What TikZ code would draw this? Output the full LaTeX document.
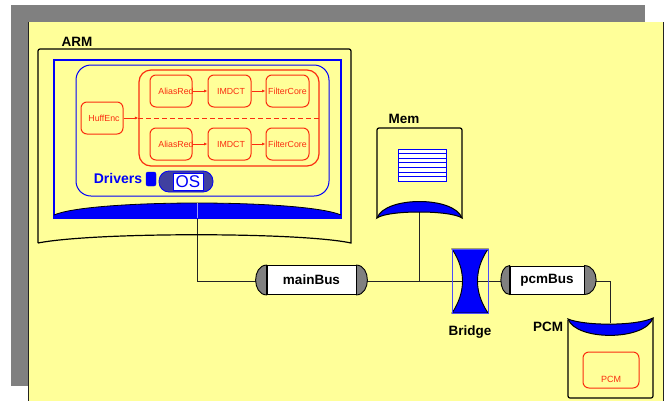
\documentclass[tikz,border=0pt]{standalone}
\usepackage{fontspec}
\setmainfont{Liberation Sans}
\usetikzlibrary{arrows.meta}
\definecolor{bgyellow}{RGB}{255,255,153}
\definecolor{shadowgray}{RGB}{128,128,128}
\definecolor{redc}{RGB}{250,45,15}
\definecolor{bluec}{RGB}{0,0,250}
\definecolor{osblue}{RGB}{64,64,160}
\definecolor{linec}{RGB}{35,35,35}
\begin{document}
\begin{tikzpicture}[x=1pt,y=-1pt,
  lbl/.style={font=\fontsize{13.5}{15}\selectfont\bfseries, inner sep=0},
  rbox/.style={draw=redc, line width=1pt, rounded corners=6pt, inner sep=0},
  rtext/.style={text=redc, font=\fontsize{8.8}{10}\selectfont, inner sep=0},
  rarrow/.style={draw=redc, line width=0.9pt, -{Latex[length=3.5pt,width=3pt]}},
  busline/.style={draw=linec, line width=1pt},
  thick1/.style={line width=1.2pt},
  capfill/.style={draw=black, fill=shadowgray, line width=0.9pt}
]
\useasboundingbox (0,0) rectangle (665,400);
% background
\fill[shadowgray] (11,5) rectangle (645,386);
\fill[bgyellow] (28,22) rectangle (663,410);
\draw[linec, line width=0.9pt] (28,410) -- (28,22);
\draw[linec, line width=0.9pt] (663,22) -- (663,410);

% ---------- connectors (under shapes) ----------
\coordinate (armout) at (197,218);
\coordinate (mbL) at (256,281);
\coordinate (mbR) at (367,281);
\coordinate (pbL) at (501,281);
\coordinate (pbR) at (596,281);
\coordinate (memout) at (419,212);
\coordinate (pcmin) at (610,323);
\draw[busline] (armout) |- (mbL);
\draw[busline] (mbR) -- (pbL);
\draw[busline] (memout) -- (memout |- mbR);
\draw[busline] (pbR) -| (pcmin);

% ---------- ARM ----------
\node[lbl] (armlbl) at (77,42) {ARM};
\draw[thick1] (38,243) [rounded corners=2pt] -- (38,49) -- (351,49) [sharp corners] -- (351,243)
  .. controls (300,232) and (94,232) .. (38,243);
\draw[bluec, line width=1.5pt] (54,60) rectangle (341,218);
\fill[bluec] (54,218) -- (54,215) .. controls (90,199) and (304,199) .. (341,215) -- (341,218) -- cycle;
\draw[line width=0.8pt] (54,215) .. controls (90,199) and (304,199) .. (341,215);
\draw[bluec!40!white, line width=0.4pt] (197,203) -- (197,218);

% inner software container
\draw[bluec, line width=1pt, rounded corners=15pt] (76,65) rectangle (329,196);
\node[rbox, minimum width=180pt, minimum height=96pt, rounded corners=12pt, line width=1.2pt] (big) at (229,118) {};
\node[rbox, minimum width=42pt, minimum height=32pt] (huff) at (102,118) {};
\node[rtext] (hufft) at (104,118) {HuffEnc};
\node[rbox, minimum width=42pt, minimum height=32pt] (ar1) at (171,91) {};
\node[rbox, minimum width=43pt, minimum height=32pt] (im1) at (229.5,91) {};
\node[rbox, minimum width=43pt, minimum height=32pt] (fc1) at (287.5,91) {};
\node[rbox, minimum width=42pt, minimum height=32pt] (ar2) at (171,144) {};
\node[rbox, minimum width=43pt, minimum height=32pt] (im2) at (229.5,144) {};
\node[rbox, minimum width=43pt, minimum height=32pt] (fc2) at (287.5,144) {};
\node[rtext] (ar1t) at (176,91) {AliasRed};
\node[rtext] (im1t) at (231,91) {IMDCT};
\node[rtext] (fc1t) at (287.5,91) {FilterCore};
\node[rtext] (ar2t) at (176,144) {AliasRed};
\node[rtext] (im2t) at (231,144) {IMDCT};
\node[rtext] (fc2t) at (287.5,144) {FilterCore};
\draw[rarrow] (ar1.east) -- (im1.west);
\draw[rarrow] (im1.east) -- (fc1.west);
\draw[rarrow] (ar2.east) -- (im2.west);
\draw[rarrow] (im2.east) -- (fc2.west);
\draw[rarrow] (huff.east) -- (big.west);
\draw[redc, line width=1pt, dash pattern=on 5pt off 3pt] (big.west) -- (big.east);

% drivers / OS
\node[font=\fontsize{14}{16}\selectfont\bfseries, text=bluec, inner sep=0] (drv) at (118,178) {Drivers};
\draw[draw=bluec, fill=bluec, rounded corners=2pt] (146,172) rectangle (156,186);
\draw[draw=bluec, fill=osblue, rounded corners=10pt, line width=0.8pt] (159,171) rectangle (213,192);
\node[draw=bluec, fill=white, line width=0.8pt, minimum width=30pt, minimum height=17pt, inner sep=0,
  font=\fontsize{17}{18}\selectfont, text=bluec] (os) at (188,181.5) {OS};

% ---------- Mem ----------
\node[lbl] (memlbl) at (404,119) {Mem};
\draw[thick1] (377,218) [rounded corners=2pt] -- (377,128) -- (462,128) [sharp corners] -- (462,218);
\draw[fill=bluec, line width=1pt] (377,218) .. controls (385,196) and (454,196) .. (462,218)
  .. controls (450,210) and (388,210) .. cycle;
\draw[bluec, fill=white, line width=0.8pt] (398,149) rectangle (446,181);
\foreach \yy in {153.6,158.1,162.7,167.3,171.9,176.4}
  \draw[bluec, line width=0.8pt] (398,\yy) -- (446,\yy);

% ---------- mainBus ----------
\node[draw=black, fill=white, line width=0.9pt, minimum width=89pt, minimum height=29pt, inner sep=0, lbl] (mb) at (311.5,280) {mainBus};
\draw[capfill] (mb.north west) .. controls (252,265.5) and (252,294.5) .. (mb.south west) -- cycle;
\draw[capfill] (mb.north east) .. controls (371,265.5) and (371,294.5) .. (mb.south east) -- cycle;

% ---------- Bridge ----------
\draw[fill=bluec, line width=0.9pt] (452,249) -- (488,249) .. controls (474,270) and (474,292) .. (488,313)
  -- (452,313) .. controls (466,292) and (466,270) .. cycle;
\draw[bluec!70!white, line width=0.4pt] (452,249) rectangle (488,313);
\node[lbl] (brlbl) at (470,332) {Bridge};

% ---------- pcmBus ----------
\node[draw=black, fill=white, line width=0.9pt, minimum width=74pt, minimum height=28pt, inner sep=0, lbl] (pb) at (547,280) {pcmBus};
\draw[capfill] (pb.north west) .. controls (498,266) and (498,294) .. (pb.south west) -- cycle;
\draw[capfill] (pb.north east) .. controls (600,266) and (600,294) .. (pb.south east) -- cycle;

% ---------- PCM ----------
\node[lbl] (pcmlbl) at (548,327) {PCM};
\draw[thick1] (568,320) [rounded corners=2pt] -- (568,398) -- (653,398) [sharp corners] -- (653,318);
\draw[fill=bluec, line width=1pt] (568,319) .. controls (585,326) and (636,326) .. (653,318)
  .. controls (645,341) and (576,341) .. cycle;
\node[rbox, minimum width=56pt, minimum height=36pt] (pcmcore) at (611,370) {};
\node[rtext, font=\fontsize{9}{10}\selectfont] (pcmcoret) at (611,379) {PCM};
\end{tikzpicture}
\end{document}
